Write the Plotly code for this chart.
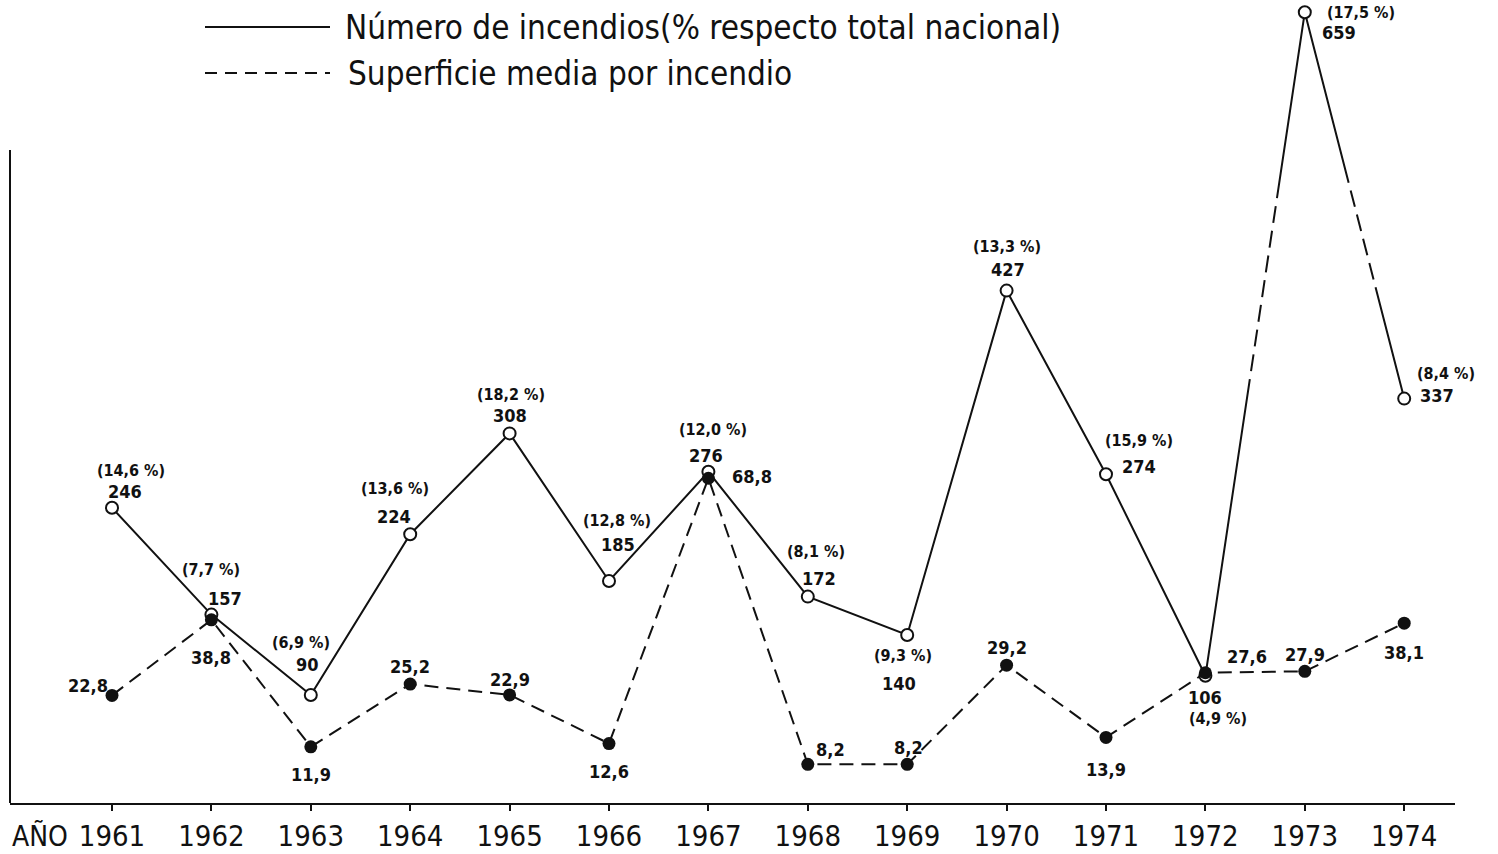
import plotly.graph_objects as go

# ---------------- data ----------------
years = [1961, 1962, 1963, 1964, 1965, 1966, 1967, 1968, 1969, 1970, 1971, 1972, 1973, 1974]
incendios = [246, 157, 90, 224, 308, 185, 276, 172, 140, 427, 274, 106, 659, 337]
porcentaje = ["14,6", "7,7", "6,9", "13,6", "18,2", "12,8", "12,0", "8,1", "9,3",
              "13,3", "15,9", "4,9", "17,5", "8,4"]
superficie = [22.8, 38.8, 11.9, 25.2, 22.9, 12.6, 68.8, 8.2, 8.2, 29.2, 13.9, 27.6, 27.9, 38.1]
superficie_txt = ["22,8", "38,8", "11,9", "25,2", "22,9", "12,6", "68,8", "8,2", "8,2",
                  "29,2", "13,9", "27,6", "27,9", "38,1"]
legend_incendios = "Número de incendios(% respecto total nacional)"
legend_superficie = "Superficie media por incendio"
axis_label = "AÑO"

# ---------------- layout constants (pixels) ----------------
W, H = 1498, 854
ML, MR, MT, MB = 10, 43, 0, 51
PW, PH = W - ML - MR, H - MT - MB
INK = "#111111"
FONT = "DejaVu Sans Condensed, Liberation Sans Narrow, DejaVu Sans, sans-serif"
SCALE_INC = 1.20   # px per fire
SCALE_SUP = 4.72   # px per hectare

def px(x):
    return (x - ML) / PW

def py(y):
    return (H - MB - y) / PH

# label offsets (dx, dy in screen pixels, dy positive = down)
pct_off = [(19, -37), (0, -45), (-10, -53), (-15, -46), (1, -39), (8, -61), (5, -42),
           (8, -45), (-4, 20), (0, -44), (33, -34), (13, 43), (56, 0), (42, -25)]
val_off = [(13, -16), (14, -16), (-3, -31), (-16, -18), (0, -18), (9, -37), (-2, -16),
           (11, -18), (-8, 48), (1, -21), (33, -8), (0, 22), (34, 20), (33, -3)]
sup_off = [(-24, -10), (0, 38), (0, 28), (0, -18), (0, -15), (0, 28), (44, -2),
           (23, -15), (1, -17), (0, -18), (0, 32), (42, -16), (0, -17), (0, 29)]

fig = go.Figure()

# solid part of incendios (1961-1972)
fig.add_trace(go.Scatter(
    x=years[:12], y=incendios[:12], mode="lines",
    line=dict(color=INK, width=2), yaxis="y", showlegend=False, hoverinfo="skip"))
# broken-scale part (1972-1974): solid / dashed / solid
brk = "300px,8px," + "17px,8px," * 7 + "364px,8px," + "17px,8px," * 4 + "260px,8px"
fig.add_trace(go.Scatter(
    x=years[11:], y=incendios[11:], mode="lines",
    line=dict(color=INK, width=2, dash=brk),
    yaxis="y", showlegend=False, hoverinfo="skip"))

# superficie dashed
fig.add_trace(go.Scatter(
    x=years, y=superficie, mode="lines+markers",
    line=dict(color=INK, width=2, dash="14px,8px"),
    marker=dict(symbol="circle", size=13, color=INK, line=dict(color=INK, width=0)),
    yaxis="y2", showlegend=False, hoverinfo="skip", cliponaxis=False))

# incendios open markers
fig.add_trace(go.Scatter(
    x=years, y=incendios, mode="markers",
    marker=dict(symbol="circle", size=12, color="white", line=dict(color=INK, width=2)),
    yaxis="y", showlegend=False, hoverinfo="skip", cliponaxis=False))

annotations = []
val_font = dict(family=FONT, size=18, color=INK)
pct_font = dict(family=FONT, size=16, color=INK)
for i, yr in enumerate(years):
    dx, dy = pct_off[i]
    annotations.append(dict(x=yr, y=incendios[i], xref="x", yref="y",
                            text="<b>(" + porcentaje[i] + " %)</b>", showarrow=False,
                            xshift=dx, yshift=-dy, font=pct_font,
                            xanchor="center", yanchor="middle"))
    dx, dy = val_off[i]
    annotations.append(dict(x=yr, y=incendios[i], xref="x", yref="y",
                            text="<b>" + str(incendios[i]) + "</b>", showarrow=False,
                            xshift=dx, yshift=-dy, font=val_font,
                            xanchor="center", yanchor="middle"))
    dx, dy = sup_off[i]
    annotations.append(dict(x=yr, y=superficie[i], xref="x", yref="y2",
                            text="<b>" + superficie_txt[i] + "</b>", showarrow=False,
                            xshift=dx, yshift=-dy, font=val_font,
                            xanchor="center", yanchor="middle"))

# legend texts
annotations.append(dict(x=px(343), y=py(27), xref="paper", yref="paper", text=legend_incendios,
                        showarrow=False, xanchor="left", yanchor="middle",
                        font=dict(family=FONT, size=33, color=INK)))
annotations.append(dict(x=px(346), y=py(73), xref="paper", yref="paper", text=legend_superficie,
                        showarrow=False, xanchor="left", yanchor="middle",
                        font=dict(family=FONT, size=33, color=INK)))
# axis label
annotations.append(dict(x=px(10), y=py(836), xref="paper", yref="paper", text=axis_label,
                        showarrow=False, xanchor="left", yanchor="middle",
                        font=dict(family=FONT, size=28, color=INK)))

shapes = [
    dict(type="line", xref="paper", yref="paper", x0=px(205), x1=px(330), y0=py(27), y1=py(27),
         line=dict(color=INK, width=2)),
    dict(type="line", xref="paper", yref="paper", x0=px(205), x1=px(330), y0=py(73), y1=py(73),
         line=dict(color=INK, width=2, dash="12px,8px")),
    # left vertical frame line
    dict(type="line", xref="paper", yref="paper", x0=0, x1=0, y0=0, y1=py(150),
         line=dict(color=INK, width=2)),
]

x_left = 1961 - (112 - ML) / 99.4
x_right = 1961 + (W - MR - 112) / 99.4

fig.update_layout(
    width=W, height=H,
    margin=dict(l=ML, r=MR, t=MT, b=MB, pad=0),
    paper_bgcolor="white", plot_bgcolor="white",
    xaxis=dict(range=[x_left, x_right], tickvals=years, ticktext=[str(y) for y in years],
               showline=True, linecolor=INK, linewidth=2, ticks="outside", ticklen=6,
               tickwidth=2, tickcolor=INK, showgrid=False, zeroline=False,
               tickfont=dict(family=FONT, size=29, color=INK)),
    yaxis=dict(range=[0, PH / SCALE_INC], showline=False,
               showticklabels=False, ticks="", showgrid=False, zeroline=False),
    yaxis2=dict(range=[0, PH / SCALE_SUP], overlaying="y", side="right", visible=False,
                showgrid=False, zeroline=False),
    annotations=annotations, shapes=shapes, showlegend=False,
)

fig.write_html("out.html", config={"displayModeBar": False},
               post_script="document.body.style.margin='0';document.body.style.overflow='hidden';")
